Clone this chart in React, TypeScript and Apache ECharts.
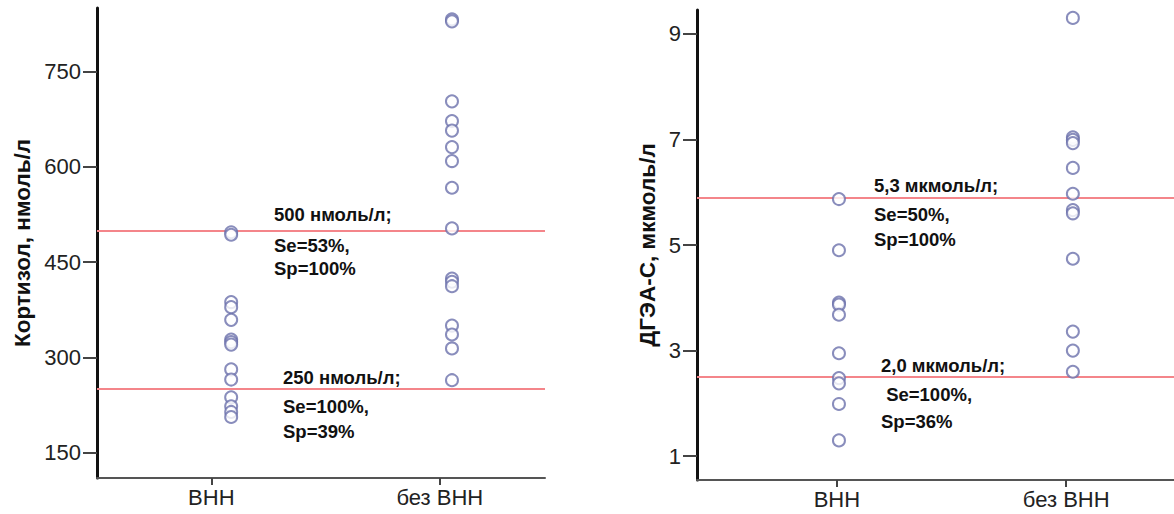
import React, { useEffect, useRef } from "react";
import * as echarts from "echarts";

// ---- Data ----
const categories = ["ВНН", "без ВНН"];

// Cortisol, nmol/l
const cortisolVNN = [497, 493, 387, 379, 359, 328, 324, 320, 281, 265, 237, 223, 214, 206];
const cortisolNoVNN = [832, 829, 703, 672, 657, 631, 609, 567, 503, 424, 419, 412, 350, 336, 314, 264];
const cortisolTicks = [150, 300, 450, 600, 750];
const cortisolCutoffs = [500, 250];

// DHEA-S, µmol/l
const dheaVNN = [5.87, 4.9, 3.91, 3.87, 3.68, 2.95, 2.48, 2.38, 1.99, 1.3];
const dheaNoVNN = [9.3, 7.04, 6.99, 6.93, 6.46, 5.97, 5.66, 5.6, 4.74, 3.36, 3.0, 2.6];
const dheaTicks = [1, 3, 5, 7, 9];
const dheaCutoffs = [5.9, 2.5];

// horizontal placement of each group's points (category 1 and 2, slightly offset)
const cortisolGroupX = [1.087, 2.053];
const dheaGroupX = [1.009, 2.029];

const cortisolNotes = [
  ["500 нмоль/л;", "Se=53%,", "Sp=100%"],
  ["250 нмоль/л;", "Se=100%,", "Sp=39%"],
];
const dheaNotes = [
  ["5,3 мкмоль/л;", "Se=50%,", "Sp=100%"],
  ["2,0 мкмоль/л;", " Se=100%,", "Sp=36%"],
];

const FONT = 'Arial, "Liberation Sans", sans-serif';
const POINT = "#6c70ab";
const CUT = "#f4858a";

export default function App() {
  const ref = useRef<HTMLDivElement>(null);

  useEffect(() => {
    if (!ref.current) return;
    const chart = echarts.init(ref.current, null, { renderer: "svg" });

    const xAxisBase = (gridIndex: number, min: number, max: number) => ({
      type: "value",
      gridIndex,
      min,
      max,
      splitLine: { show: false },
      axisLine: { show: true, lineStyle: { color: "#555", width: 2 } },
      axisTick: {
        show: true,
        customValues: [1, 2],
        length: 7,
        lineStyle: { color: "#444", width: 2 },
      },
      axisLabel: {
        show: true,
        customValues: [1, 2],
        formatter: (v: number) => categories[Math.round(v) - 1] ?? "",
        fontSize: 22,
        fontFamily: FONT,
        color: "#222",
        margin: 8,
      },
    });

    const yAxisBase = (
      gridIndex: number,
      min: number,
      max: number,
      ticks: number[],
      name: string,
      nameGap: number
    ) => ({
      type: "value",
      gridIndex,
      min,
      max,
      name,
      nameLocation: "middle",
      nameRotate: 90,
      nameGap,
      nameTextStyle: { fontSize: 22.5, fontWeight: "bold", fontFamily: FONT, color: "#111" },
      splitLine: { show: false },
      axisLine: { show: true, lineStyle: { color: "#111", width: 3 } },
      axisTick: {
        show: true,
        customValues: ticks,
        length: 14,
        lineStyle: { color: "#444", width: 2 },
      },
      axisLabel: {
        show: true,
        customValues: ticks,
        fontSize: 22,
        fontFamily: FONT,
        color: "#222",
        margin: 16,
      },
    });

    const scatter = (idx: number, x: number, vals: number[], cut?: number[]) => ({
      type: "scatter",
      xAxisIndex: idx,
      yAxisIndex: idx,
      symbol: "emptyCircle",
      symbolSize: 12,
      itemStyle: { color: POINT, borderColor: POINT, borderWidth: 2 },
      data: vals.map((v) => [x, v]),
      z: 3,
      ...(cut
        ? {
            markLine: {
              silent: true,
              symbol: "none",
              label: { show: false },
              lineStyle: { color: CUT, width: 2, type: "solid" },
              data: cut.map((c) => ({ yAxis: c })),
              z: 2,
            },
          }
        : {}),
    });

    const notes = (
      groups: string[][],
      positions: { x: number; ys: number[] }[]
    ) =>
      groups.flatMap((g, gi) =>
        g.map((t, li) => ({
          type: "text",
          left: positions[gi].x,
          top: positions[gi].ys[li] - 10,
          style: {
            text: t,
            fontSize: 18.5,
            fontWeight: "bold",
            fontFamily: FONT,
            fill: "#111",
          },
        }))
      );

    chart.setOption({
      animation: false,
      backgroundColor: "#fff",
      grid: [
        { left: 97, top: 8, width: 448, height: 470 },
        { left: 697, top: 10, width: 477, height: 470 },
      ],
      xAxis: [xAxisBase(0, 0.5, 2.46), xAxisBase(1, 0.39, 2.47)],
      yAxis: [
        yAxisBase(0, 110, 850, cortisolTicks, "Кортизол, нмоль/л", 63),
        yAxisBase(1, 0.55, 9.45, dheaTicks, "ДГЭА-С, мкмоль/л", 38),
      ],
      series: [
        scatter(0, cortisolGroupX[0], cortisolVNN, cortisolCutoffs),
        scatter(0, cortisolGroupX[1], cortisolNoVNN),
        scatter(1, dheaGroupX[0], dheaVNN, dheaCutoffs),
        scatter(1, dheaGroupX[1], dheaNoVNN),
      ],
      graphic: [
        ...notes(cortisolNotes, [
          { x: 274, ys: [215, 246, 269] },
          { x: 283, ys: [378, 407, 432] },
        ]),
        ...notes(dheaNotes, [
          { x: 874, ys: [186, 215, 240] },
          { x: 881, ys: [366, 395, 422] },
        ]),
      ],
    });

    return () => chart.dispose();
  }, []);

  return (
    <div
      ref={ref}
      style={{ position: "absolute", left: 0, top: 0, width: 1174, height: 514 }}
    />
  );
}
